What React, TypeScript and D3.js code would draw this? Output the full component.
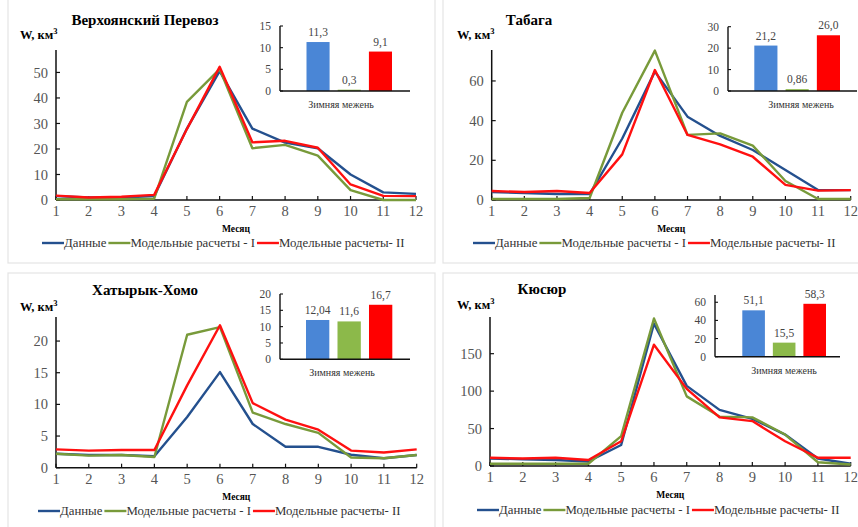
import React, { useEffect, useRef } from 'react';
import * as d3 from 'd3';

// months on x axis
const months = [1, 2, 3, 4, 5, 6, 7, 8, 9, 10, 11, 12];
const seriesNames = ['Данные', 'Модельные расчеты - I', 'Модельные расчеты- II'];
const lineColors = ['#24508e', '#789a3a', '#ff1010'];
const barColors = ['#4a86d6', '#8cb94a', '#ff0000'];

// Верхоянский Перевоз
const verkhObs = [1.5, 1, 1, 1.5, 28, 50.5, 28, 22.5, 20.3, 10, 3, 2.4];
const verkhModel1 = [0.3, 0.3, 0.3, 0.5, 38.5, 51.3, 20.3, 21.6, 17.4, 3.9, 0, 0];
const verkhModel2 = [1.7, 1, 1.3, 2, 27.8, 52.2, 22.6, 23.2, 20.5, 6.1, 1.6, 1.5];
const verkhWinter = [11.3, 0.3, 9.1];
const verkhWinterLabels = ['11,3', '0,3', '9,1'];
const verkhTicks = [0, 10, 20, 30, 40, 50];
const verkhWinterTicks = [0, 5, 10, 15];

// Табага
const tabagaObs = [4, 3.5, 3, 3, 31, 64.7, 42, 32.3, 25.2, 15.1, 5, 5];
const tabagaModel1 = [0.5, 0.5, 0.5, 1, 44, 75.3, 32.8, 33.6, 27.4, 9.6, 0.5, 0.5];
const tabagaModel2 = [4.5, 4, 4.5, 3.5, 23, 65.5, 32.8, 28, 21.8, 7.6, 4.7, 5];
const tabagaWinter = [21.2, 0.86, 26.0];
const tabagaWinterLabels = ['21,2', '0,86', '26,0'];
const tabagaTicks = [0, 20, 40, 60];
const tabagaWinterTicks = [0, 10, 20, 30];

// Хатырык-Хомо
const khatObs = [2.2, 2, 2, 1.8, 8, 15.1, 6.9, 3.3, 3.3, 2.05, 1.5, 2];
const khatModel1 = [2.2, 1.9, 2, 1.7, 21, 22.2, 8.7, 6.9, 5.5, 1.6, 1.5, 2];
const khatModel2 = [2.9, 2.7, 2.8, 2.8, 13, 22.5, 10.2, 7.6, 6, 2.7, 2.4, 2.9];
const khatWinter = [12.04, 11.6, 16.7];
const khatWinterLabels = ['12,04', '11,6', '16,7'];
const khatTicks = [0, 5, 10, 15, 20];
const khatWinterTicks = [0, 5, 10, 15, 20];

// Кюсюр
const kyusObs = [10, 9, 8, 6, 28, 190, 107, 75, 63, 42, 10, 3];
const kyusModel1 = [3, 3, 3, 3, 40, 197, 93, 66, 65, 42, 5, 2];
const kyusModel2 = [11, 10, 11, 8, 33, 162, 103, 65, 60, 33, 11, 11];
const kyusWinter = [51.1, 15.5, 58.3];
const kyusWinterLabels = ['51,1', '15,5', '58,3'];
const kyusTicks = [0, 50, 100, 150];
const kyusWinterTicks = [0, 20, 40, 60];

const panels = [
  {
    title: 'Верхоянский Перевоз', titleX: 145, titleY: 25, wX: 20, wY: 39,
    series: [verkhObs, verkhModel1, verkhModel2], ticks: verkhTicks, yMax: 58.8,
    x0: 56, x1: 416, y0: 200, yTop: 50, legendX: 42, legendY: 243,
    winter: verkhWinter, winterLabels: verkhWinterLabels, winterTicks: verkhWinterTicks, winterMax: 15,
    ix0: 280, ix1: 410, iy0: 91, iyTop: 26, barX0: 306.5, barX1: 392, ilabelX: 341,
    card: [8, -2, 427, 265],
  },
  {
    title: 'Табага', titleX: 529, titleY: 25, wX: 457, wY: 39,
    series: [tabagaObs, tabagaModel1, tabagaModel2], ticks: tabagaTicks, yMax: 75.6,
    x0: 491.7, x1: 850.7, y0: 200, yTop: 50, legendX: 473, legendY: 243,
    winter: tabagaWinter, winterLabels: tabagaWinterLabels, winterTicks: tabagaWinterTicks, winterMax: 30,
    ix0: 728, ix1: 857, iy0: 91, iyTop: 26.7, barX0: 754.3, barX1: 840, ilabelX: 801,
    card: [443, -2, 420, 265],
  },
  {
    title: 'Хатырык-Хомо', titleX: 145, titleY: 295, wX: 20, wY: 311,
    series: [khatObs, khatModel1, khatModel2], ticks: khatTicks, yMax: 23.8,
    x0: 56, x1: 416.7, y0: 467.7, yTop: 317, legendX: 38, legendY: 511,
    winter: khatWinter, winterLabels: khatWinterLabels, winterTicks: khatWinterTicks, winterMax: 20,
    ix0: 280, ix1: 410, iy0: 359.3, iyTop: 294, barX0: 306, barX1: 392.3, ilabelX: 342,
    card: [8, 273, 427, 260],
  },
  {
    title: 'Кюсюр', titleX: 542, titleY: 294, wX: 457, wY: 309,
    series: [kyusObs, kyusModel1, kyusModel2], ticks: kyusTicks, yMax: 199,
    x0: 490, x1: 850.7, y0: 466, yTop: 317, legendX: 477, legendY: 510,
    winter: kyusWinter, winterLabels: kyusWinterLabels, winterTicks: kyusWinterTicks, winterMax: 68,
    ix0: 715, ix1: 840, iy0: 356.7, iyTop: 295, barX0: 742.3, barX1: 826, ilabelX: 784,
    card: [443, 273, 420, 260],
  },
];

const FONT = 'Liberation Serif, DejaVu Serif, serif';

const App = () => {
  const svgRef = useRef<SVGSVGElement>(null);

  useEffect(() => {
    const svg = d3.select(svgRef.current);
    svg.selectAll('*').remove();
    svg.append('rect').attr('width', 858).attr('height', 527).attr('fill', '#fff');

    panels.forEach(p => {
      // card border
      svg.append('rect')
        .attr('x', p.card[0]).attr('y', p.card[1])
        .attr('width', p.card[2]).attr('height', p.card[3])
        .attr('fill', 'none').attr('stroke', '#e4e4e4').attr('stroke-width', 1.2);

      const g = svg.append('g').attr('font-family', FONT);

      const x = d3.scaleLinear().domain([1, 12]).range([p.x0, p.x1]);
      const y = d3.scaleLinear().domain([0, p.yMax]).range([p.y0, p.yTop]);

      // y axis
      g.append('line').attr('x1', p.x0).attr('x2', p.x0).attr('y1', p.yTop).attr('y2', p.y0)
        .attr('stroke', '#111').attr('stroke-width', 1.5);
      g.selectAll('.ytick').data(p.ticks).enter().append('line')
        .attr('x1', p.x0).attr('x2', p.x0 + 4)
        .attr('y1', d => y(d)).attr('y2', d => y(d))
        .attr('stroke', '#111').attr('stroke-width', 1.2);
      g.selectAll('.ylab').data(p.ticks).enter().append('text')
        .attr('x', p.x0 - 8).attr('y', d => y(d)).attr('dy', '0.35em')
        .attr('text-anchor', 'end').attr('font-size', 14.5).attr('fill', '#555')
        .text(d => d);

      // x axis
      g.append('line').attr('x1', p.x0).attr('x2', p.x1).attr('y1', p.y0).attr('y2', p.y0)
        .attr('stroke', '#111').attr('stroke-width', 1.5);
      g.selectAll('.xtick').data(months).enter().append('line')
        .attr('x1', d => x(d)).attr('x2', d => x(d))
        .attr('y1', p.y0).attr('y2', p.y0 - 4)
        .attr('stroke', '#111').attr('stroke-width', 1.2);
      g.selectAll('.xlab').data(months).enter().append('text')
        .attr('x', d => x(d)).attr('y', p.y0 + 11).attr('dy', '0.35em')
        .attr('text-anchor', 'middle').attr('font-size', 14.5).attr('fill', '#555')
        .text(d => d);
      g.append('text').attr('x', (p.x0 + p.x1) / 2).attr('y', p.y0 + 32)
        .attr('text-anchor', 'middle').attr('font-size', 9.5).attr('font-weight', 'bold')
        .text('Месяц');

      // lines
      const line = d3.line<number>().x((d, i) => x(months[i])).y(d => y(d));
      p.series.forEach((s, i) => {
        g.append('path').datum(s).attr('d', line)
          .attr('fill', 'none').attr('stroke', lineColors[i]).attr('stroke-width', 2.4)
          .attr('stroke-linejoin', 'round');
      });

      // title & y label
      g.append('text').attr('x', p.titleX).attr('y', p.titleY)
        .attr('text-anchor', 'middle').attr('font-size', 15).attr('font-weight', 'bold')
        .text(p.title);
      const w = g.append('text').attr('x', p.wX).attr('y', p.wY)
        .attr('font-size', 12.5).attr('font-weight', 'bold');
      w.append('tspan').text('W, км');
      w.append('tspan').attr('font-size', 8.5).attr('dy', -5).text('3');

      // legend
      let lx = p.legendX;
      seriesNames.forEach((name, i) => {
        g.append('line').attr('x1', lx).attr('x2', lx + 22)
          .attr('y1', p.legendY).attr('y2', p.legendY)
          .attr('stroke', lineColors[i]).attr('stroke-width', 2.4);
        const t = g.append('text').attr('x', lx + 22).attr('y', p.legendY).attr('dy', '0.35em')
          .attr('font-size', 12.8).attr('fill', '#333').text(name);
        const tw = (t.node() as SVGTextElement).getComputedTextLength();
        lx += 22 + tw + 2;
      });

      // inset bar chart
      const iy = d3.scaleLinear().domain([0, p.winterMax]).range([p.iy0, p.iyTop]);
      const ib = d3.scaleBand<number>().domain([0, 1, 2]).range([p.barX0, p.barX1]).paddingInner(0.26);
      g.append('line').attr('x1', p.ix0).attr('x2', p.ix0).attr('y1', p.iyTop).attr('y2', p.iy0)
        .attr('stroke', '#111').attr('stroke-width', 1.4);
      g.selectAll('.iytick').data(p.winterTicks).enter().append('line')
        .attr('x1', p.ix0).attr('x2', p.ix0 + 3)
        .attr('y1', d => iy(d)).attr('y2', d => iy(d))
        .attr('stroke', '#111').attr('stroke-width', 1.1);
      g.selectAll('.iylab').data(p.winterTicks).enter().append('text')
        .attr('x', p.ix0 - 9).attr('y', d => iy(d)).attr('dy', '0.35em')
        .attr('text-anchor', 'end').attr('font-size', 11.5).attr('fill', '#444')
        .text(d => d);
      g.selectAll('.bar').data(p.winter).enter().append('rect')
        .attr('x', (d, i) => ib(i)!).attr('width', ib.bandwidth())
        .attr('y', d => iy(d)).attr('height', d => p.iy0 - iy(d))
        .attr('fill', (d, i) => barColors[i]);
      g.selectAll('.barlab').data(p.winter).enter().append('text')
        .attr('x', (d, i) => ib(i)! + ib.bandwidth() / 2).attr('y', d => iy(d) - 6)
        .attr('text-anchor', 'middle').attr('font-size', 11.5).attr('fill', '#444')
        .text((d, i) => p.winterLabels[i]);
      g.append('line').attr('x1', p.ix0).attr('x2', p.ix1).attr('y1', p.iy0).attr('y2', p.iy0)
        .attr('stroke', '#111').attr('stroke-width', 1.4);
      g.append('text').attr('x', p.ilabelX).attr('y', p.iy0 + 17)
        .attr('text-anchor', 'middle').attr('font-size', 10).attr('fill', '#333')
        .text('Зимняя межень');
    });
  }, []);

  return (
    <svg ref={svgRef} width={858} height={527}
      style={{ position: 'absolute', left: 0, top: 0, display: 'block' }} />
  );
};

export default App;
